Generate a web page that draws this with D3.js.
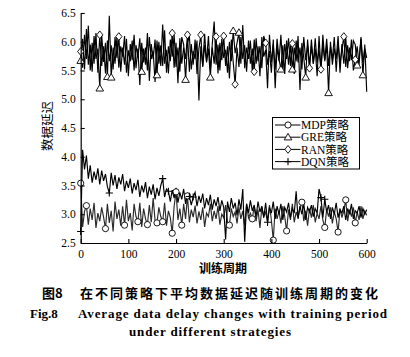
<!DOCTYPE html>
<html>
<head>
<meta charset="utf-8">
<script src="https://cdn.jsdelivr.net/npm/d3@7/dist/d3.min.js"></script>
<style>
html,body{margin:0;padding:0;background:#fff;}
svg{display:block;}
</style>
</head>
<body>
<svg id="chart" width="410" height="357"></svg>
<script>
// ---------- data ----------
const epochStep = 4; // training period spacing of sampled points (0..600)
const seriesNames = ["MDP策略", "GRE策略", "RAN策略", "DQN策略"];
const xTicks = [0, 100, 200, 300, 400, 500, 600];
const yTicks = [2.5, 3.0, 3.5, 4.0, 4.5, 5.0, 5.5, 6.0, 6.5];

const greValues = [
5.67,6.05,5.52,6.22,5.60,5.95,5.48,6.10,5.70,5.88,
5.19,6.12,5.65,5.98,5.39,6.45,5.38,5.90,5.62,6.08,
5.55,5.92,5.74,6.10,5.46,5.85,5.66,6.02,5.50,5.94,
5.72,6.06,5.48,5.88,5.60,6.15,5.32,5.96,5.70,6.04,
5.42,6.00,5.58,6.30,5.62,5.86,5.45,6.04,5.74,6.12,
5.56,5.90,5.48,6.08,5.95,5.34,5.98,6.10,5.52,5.84,
5.70,6.02,4.98,5.92,5.58,6.14,5.64,5.88,5.38,5.96,
6.35,5.60,5.95,5.50,6.05,5.72,5.86,5.46,6.00,5.66,
6.19,5.80,5.98,6.16,5.62,6.29,5.54,5.90,5.70,6.02,
5.48,6.04,5.62,5.92,5.40,6.08,5.74,5.86,5.19,6.12,
5.64,5.96,5.52,6.05,5.70,5.52,5.94,5.44,6.02,5.60,
5.94,5.52,5.90,5.66,6.10,5.16,5.98,5.72,5.38,6.04,
5.58,5.92,5.62,6.06,5.64,5.86,5.50,6.12,5.68,5.94,
5.11,6.00,5.60,5.88,5.70,6.10,5.46,5.96,5.62,6.08,
5.54,5.90,5.68,6.02,5.95,5.59,5.70,6.05,5.42,5.95,
5.13];
const greMarkers = [0,10,14,16,32,40,55,68,80,83,105,111,118,130,145,148];

const ranValues = [
5.83,5.55,6.12,5.70,6.28,5.50,5.98,5.62,6.15,5.46,
6.12,5.58,5.92,5.45,6.02,5.66,5.94,5.52,6.08,5.72,
6.09,5.48,5.90,5.60,6.05,5.40,5.96,5.68,6.12,5.54,
5.88,5.25,5.98,5.64,5.90,5.50,6.08,5.70,5.84,5.30,
6.02,5.62,5.94,5.58,6.20,5.46,5.92,5.66,6.15,5.55,
5.98,5.28,6.06,5.62,5.90,5.70,6.12,5.48,5.96,5.60,
6.04,5.44,5.88,6.12,5.56,5.94,5.66,6.10,5.52,5.90,
5.62,6.09,5.45,5.98,5.68,6.10,5.58,5.92,5.36,6.04,
5.64,5.26,5.90,5.56,6.08,5.70,5.94,5.48,6.02,5.62,
5.88,5.48,6.06,5.66,5.92,5.54,6.10,5.98,5.60,5.84,
5.46,6.04,5.19,5.92,5.66,6.12,5.50,5.96,5.70,6.06,
5.58,5.97,5.44,6.02,5.64,5.90,5.52,6.08,5.68,5.94,
5.54,6.04,5.62,5.88,5.40,6.10,5.52,5.96,5.66,6.05,
5.58,5.92,5.70,6.08,5.48,5.98,5.62,5.86,6.09,5.56,
5.94,5.66,6.04,5.50,5.69,5.92,5.60,6.08,5.64,5.88,
5.72];
const ranMarkers = [0,10,20,48,56,63,71,75,81,91,97,111,120,126,138,144];

const mdpValues = [
3.54,2.78,3.05,3.15,2.82,3.10,2.90,3.20,2.76,3.02,
2.88,3.12,2.95,2.75,3.18,2.85,3.06,2.70,3.22,2.92,
3.08,2.80,3.14,2.81,3.25,2.88,3.02,2.72,3.18,2.96,
2.87,3.20,2.78,3.10,2.92,2.82,3.16,2.86,3.28,2.90,
2.85,3.12,2.96,2.87,3.20,2.80,3.06,2.94,2.67,3.14,
3.39,2.90,3.10,2.81,3.18,2.92,3.32,2.86,3.08,2.95,
3.15,2.84,3.05,2.90,3.12,2.78,3.02,2.96,3.18,2.88,
3.06,2.92,3.14,2.82,3.00,2.94,3.16,2.86,2.81,3.10,
2.96,3.04,2.84,3.12,2.92,3.06,2.80,3.18,2.94,3.02,
2.92,3.14,2.88,3.08,2.76,3.12,2.96,3.04,2.86,3.16,
2.90,2.55,3.10,2.92,3.06,2.84,3.14,2.96,2.71,3.08,
2.90,3.18,2.86,3.04,2.94,3.12,3.21,2.88,3.06,2.80,
3.10,2.94,3.16,2.86,3.02,2.92,3.14,2.90,2.77,3.08,
2.96,3.12,2.84,3.04,2.92,2.69,3.10,2.94,3.06,3.25,
2.88,3.08,2.96,3.12,2.85,3.04,2.90,3.14,2.92,3.06,
2.98];
const mdpMarkers = [0,3,13,23,30,35,40,43,48,50,53,56,78,90,101,108,116,128,135,139,144];

const dqnValues = [
2.70,4.12,3.78,4.02,3.62,3.85,3.55,3.74,3.60,3.80,
3.52,3.76,3.58,3.70,3.48,3.37,3.72,3.50,3.68,3.44,
3.64,3.52,3.70,3.40,3.58,3.46,3.62,3.36,3.54,3.42,
3.60,3.30,3.50,3.38,3.56,3.28,3.48,3.34,3.52,3.26,
3.46,3.32,3.50,3.62,3.30,3.44,3.40,3.22,3.42,3.28,
3.46,3.20,3.38,3.26,3.44,3.18,3.36,3.31,3.16,3.30,
3.38,3.14,3.32,3.20,3.36,3.10,3.28,3.16,3.34,3.08,
3.26,3.14,3.30,3.06,3.24,3.12,2.56,3.22,3.04,3.28,
3.10,3.20,2.98,3.26,3.08,3.44,2.52,3.18,3.02,3.24,
3.06,3.16,2.96,3.22,3.04,3.14,2.94,3.20,2.86,3.12,
3.02,3.22,2.92,3.14,3.00,3.18,2.90,3.12,3.04,3.20,
2.94,3.10,3.02,3.40,2.92,3.14,3.00,3.18,2.90,3.12,
3.04,3.16,2.96,3.10,3.02,3.44,3.29,2.94,3.26,3.04,
3.16,2.92,3.12,3.00,3.20,2.94,3.08,3.02,3.14,2.90,
3.10,3.00,3.18,2.92,3.06,3.02,3.14,2.94,3.10,3.00,
3.08];
const dqnMarkers = [0,15,43,46,57,59,98,126,128];

// ---------- layout ----------
const svg = d3.select("#chart");
const x = d3.scaleLinear().domain([0, 600]).range([80.7, 366.7]);
const y = d3.scaleLinear().domain([2.5, 6.5]).range([243, 13]);
const serif = "'Liberation Serif','Times New Roman',serif";
const cjk = "'Noto Sans CJK SC',sans-serif";
const mixed = "'Liberation Serif','Noto Sans CJK SC',serif";

const series = [
  {name: seriesNames[1], values: greValues, markers: greMarkers, shape: "tri", color: "#000"},
  {name: seriesNames[2], values: ranValues, markers: ranMarkers, shape: "dia", color: "#000"},
  {name: seriesNames[0], values: mdpValues, markers: mdpMarkers, shape: "circ", color: "#2a2a2a"},
  {name: seriesNames[3], values: dqnValues, markers: dqnMarkers, shape: "plus", color: "#000"}
];

const line = d3.line().x((d, i) => x(i * epochStep)).y(d => y(d));

const plot = svg.append("g");
series.forEach(s => {
  plot.append("path")
    .attr("d", line(s.values))
    .attr("fill", "none")
    .attr("stroke", s.color)
    .attr("stroke-width", 1.15)
    .attr("stroke-linejoin", "miter");
});

function drawMarker(g, shape, cx, cy) {
  if (shape === "circ") {
    g.append("circle").attr("cx", cx).attr("cy", cy).attr("r", 3.1)
      .attr("fill", "#fff").attr("stroke", "#000").attr("stroke-width", 0.9);
  } else if (shape === "tri") {
    g.append("path").attr("d", `M${cx},${cy-3.8}L${cx+3.8},${cy+2.7}L${cx-3.8},${cy+2.7}Z`)
      .attr("fill", "#fff").attr("stroke", "#000").attr("stroke-width", 0.9);
  } else if (shape === "dia") {
    g.append("path").attr("d", `M${cx},${cy-3.9}L${cx+3.1},${cy}L${cx},${cy+3.9}L${cx-3.1},${cy}Z`)
      .attr("fill", "#fff").attr("stroke", "#000").attr("stroke-width", 0.9);
  } else {
    g.append("path").attr("d", `M${cx-3.6},${cy}H${cx+3.6}M${cx},${cy-3.6}V${cy+3.6}`)
      .attr("fill", "none").attr("stroke", "#000").attr("stroke-width", 1.1);
  }
}

series.forEach(s => {
  const g = plot.append("g");
  s.markers.forEach(i => drawMarker(g, s.shape, x(i * epochStep), y(s.values[i])));
});

// ---------- axes ----------
const yAxis = d3.axisLeft(y).tickValues(yTicks).tickFormat(d3.format(".1f"))
  .tickSizeInner(-4).tickSizeOuter(0).tickPadding(5);
const xAxis = d3.axisBottom(x).tickValues(xTicks).tickFormat(d3.format("d"))
  .tickSizeInner(-4).tickSizeOuter(0).tickPadding(7);

const gy = svg.append("g").attr("transform", "translate(80.7,0)").call(yAxis);
const gx = svg.append("g").attr("transform", "translate(0,243)").call(xAxis);
[gx, gy].forEach(g => {
  g.select(".domain").attr("stroke", "#000").attr("stroke-width", 1.2);
  g.selectAll(".tick line").attr("stroke", "#000").attr("stroke-width", 1.1);
  g.selectAll(".tick text").attr("fill", "#000").style("font-family", serif).style("font-size", "11.5px");
});

// axis titles
svg.append("text")
  .attr("transform", "translate(52,126) rotate(-90)")
  .attr("text-anchor", "middle")
  .style("font-family", cjk).style("font-size", "12.5px")
  .text("数据延迟");
svg.append("text")
  .attr("x", 223).attr("y", 273)
  .attr("text-anchor", "middle")
  .style("font-family", cjk).style("font-size", "12px").style("font-weight", "bold")
  .text("训练周期");

// ---------- legend ----------
const legend = svg.append("g");
legend.append("rect").attr("x", 272.5).attr("y", 117.5).attr("width", 87).attr("height", 51.5)
  .attr("fill", "#fff").attr("stroke", "#000").attr("stroke-width", 1);
const legendOrder = [
  {name: seriesNames[0], shape: "circ"},
  {name: seriesNames[1], shape: "tri"},
  {name: seriesNames[2], shape: "dia"},
  {name: seriesNames[3], shape: "plus"}
];
legendOrder.forEach((d, i) => {
  const cy = 125 + i * 12.2;
  legend.append("line").attr("x1", 275).attr("x2", 300.5).attr("y1", cy).attr("y2", cy)
    .attr("stroke", "#000").attr("stroke-width", 1);
  drawMarker(legend, d.shape, 288, cy);
  legend.append("text").attr("x", 301).attr("y", cy + 4.2)
    .style("font-family", mixed).style("font-size", "11.5px")
    .text(d.name);
});

// ---------- caption ----------
svg.append("text").attr("x", 42).attr("y", 298)
  .style("font-family", cjk).style("font-size", "13px").style("font-weight", "bold")
  .text("图8");
svg.append("text").attr("x", 80).attr("y", 298)
  .attr("textLength", 298).attr("lengthAdjust", "spacing")
  .style("font-family", cjk).style("font-size", "13px").style("font-weight", "bold")
  .text("在不同策略下平均数据延迟随训练周期的变化");
svg.append("text").attr("x", 30).attr("y", 318)
  .style("font-family", serif).style("font-size", "13px").style("font-weight", "bold")
  .text("Fig.8");
svg.append("text").attr("x", 78).attr("y", 318)
  .attr("textLength", 309).attr("lengthAdjust", "spacing")
  .style("font-family", serif).style("font-size", "13px").style("font-weight", "bold")
  .text("Average data delay changes with training period");
svg.append("text").attr("x", 129).attr("y", 336)
  .attr("textLength", 162).attr("lengthAdjust", "spacing")
  .style("font-family", serif).style("font-size", "13px").style("font-weight", "bold")
  .text("under different strategies");
</script>
</body>
</html>
